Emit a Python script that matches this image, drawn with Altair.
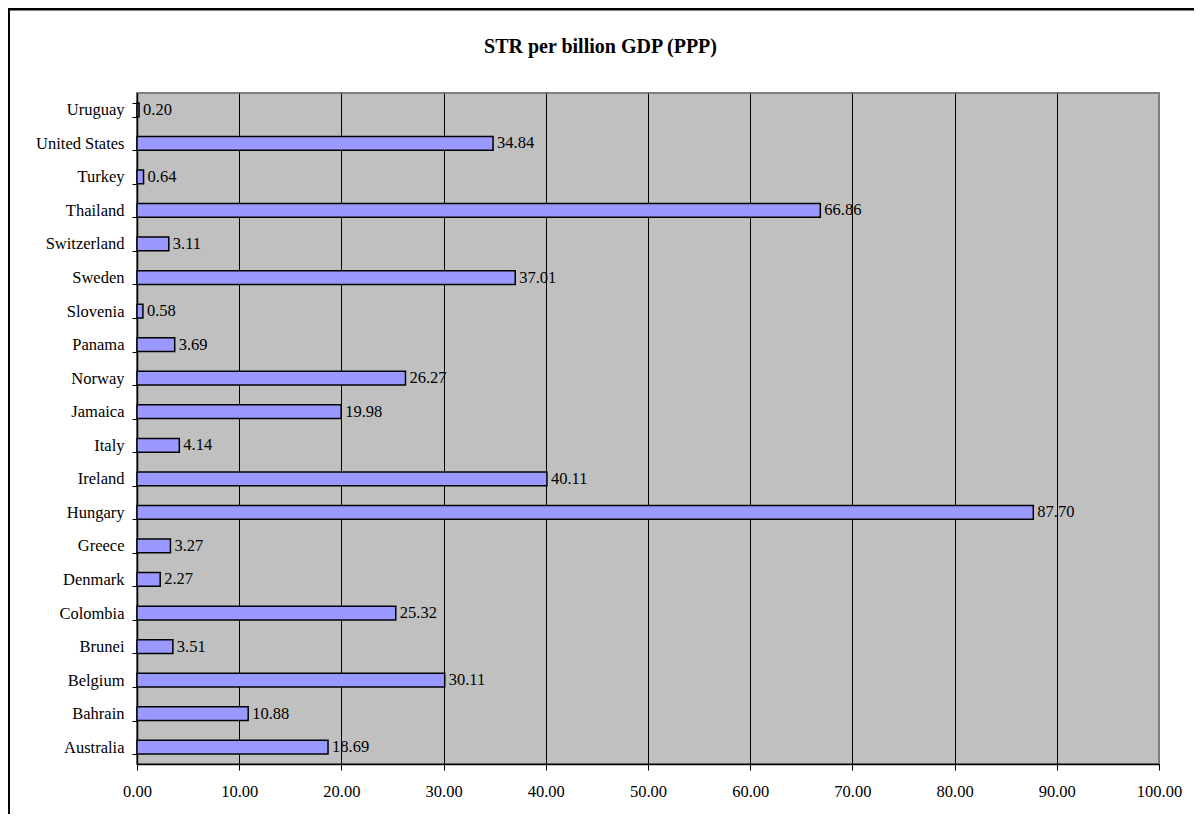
import altair as alt
import pandas as pd

countries = ["Uruguay", "United States", "Turkey", "Thailand", "Switzerland",
             "Sweden", "Slovenia", "Panama", "Norway", "Jamaica", "Italy",
             "Ireland", "Hungary", "Greece", "Denmark", "Colombia", "Brunei",
             "Belgium", "Bahrain", "Australia"]
values = [0.20, 34.84, 0.64, 66.86, 3.11, 37.01, 0.58, 3.69, 26.27, 19.98,
          4.14, 40.11, 87.70, 3.27, 2.27, 25.32, 3.51, 30.11, 10.88, 18.69]
x_ticks = [0, 10, 20, 30, 40, 50, 60, 70, 80, 90, 100]
title_text = "STR per billion GDP (PPP)"

df = pd.DataFrame({"country": countries, "value": values})

FONT = "Liberation Serif"
FS = 16.5

y_enc = alt.Y("country:N", sort=countries, title=None,
              scale=alt.Scale(paddingInner=0.59, paddingOuter=0.295),
              axis=alt.Axis(domainColor="black", domainWidth=1.5,
                            tickColor="black", tickSize=5, tickWidth=1,
                            tickBand="extent", labelPadding=8,
                            labelFont=FONT, labelFontSize=FS,
                            labelColor="black", grid=False))
x_enc = alt.X("value:Q", title=None,
              scale=alt.Scale(domain=[0, 100], nice=False, zero=True),
              axis=alt.Axis(values=x_ticks, format=".2f",
                            domainColor="black", domainWidth=1.5,
                            tickColor="black", tickSize=6, tickWidth=1,
                            labelFont=FONT, labelFontSize=FS,
                            labelColor="black", labelBaseline="alphabetic",
                            labelPadding=26, labelFlush=False,
                            grid=True, gridWidth=1,
                            gridColor={"condition": {"test": "datum.value == 100", "value": "#808080"},
                                       "value": "black"}))

bars = alt.Chart(df).mark_bar(color="#9999FF", stroke="black",
                              strokeWidth=1.5).encode(x=x_enc, y=y_enc)

labels = alt.Chart(df).mark_text(align="left", baseline="middle", dx=4,
                                 font=FONT, fontSize=FS, color="black").encode(
    x="value:Q", y=alt.Y("country:N", sort=countries),
    text=alt.Text("value:Q", format=".2f"))

frame_df = pd.DataFrame({"k": [0]})
top_line = alt.Chart(frame_df).mark_rule(color="black", strokeWidth=3,
                                         clip=False).encode(
    x=alt.value(-130), x2=alt.value(1060), y=alt.value(-84))
left_line = alt.Chart(frame_df).mark_rule(color="black", strokeWidth=2,
                                          clip=False).encode(
    x=alt.value(-128), y=alt.value(-85), y2=alt.value(740))

title_df = pd.DataFrame({"t": [title_text]})
title_mark = alt.Chart(title_df).mark_text(
    font=FONT, fontSize=20, fontWeight="bold", color="black",
    align="center", baseline="alphabetic", clip=False).encode(
    text="t:N", x=alt.value(463.5), y=alt.value(-40))

chart = alt.layer(bars, labels, top_line, left_line, title_mark).properties(
    width=1022, height=671,
    padding={"left": 129, "top": 85, "right": 35, "bottom": 50},
    autosize=alt.AutoSizeParams(type="none"),
).configure(background="white").configure_view(
    fill="#C0C0C0", stroke="#808080", strokeWidth=2)

chart.save("out.html", embed_options={"renderer": "svg", "actions": False})
